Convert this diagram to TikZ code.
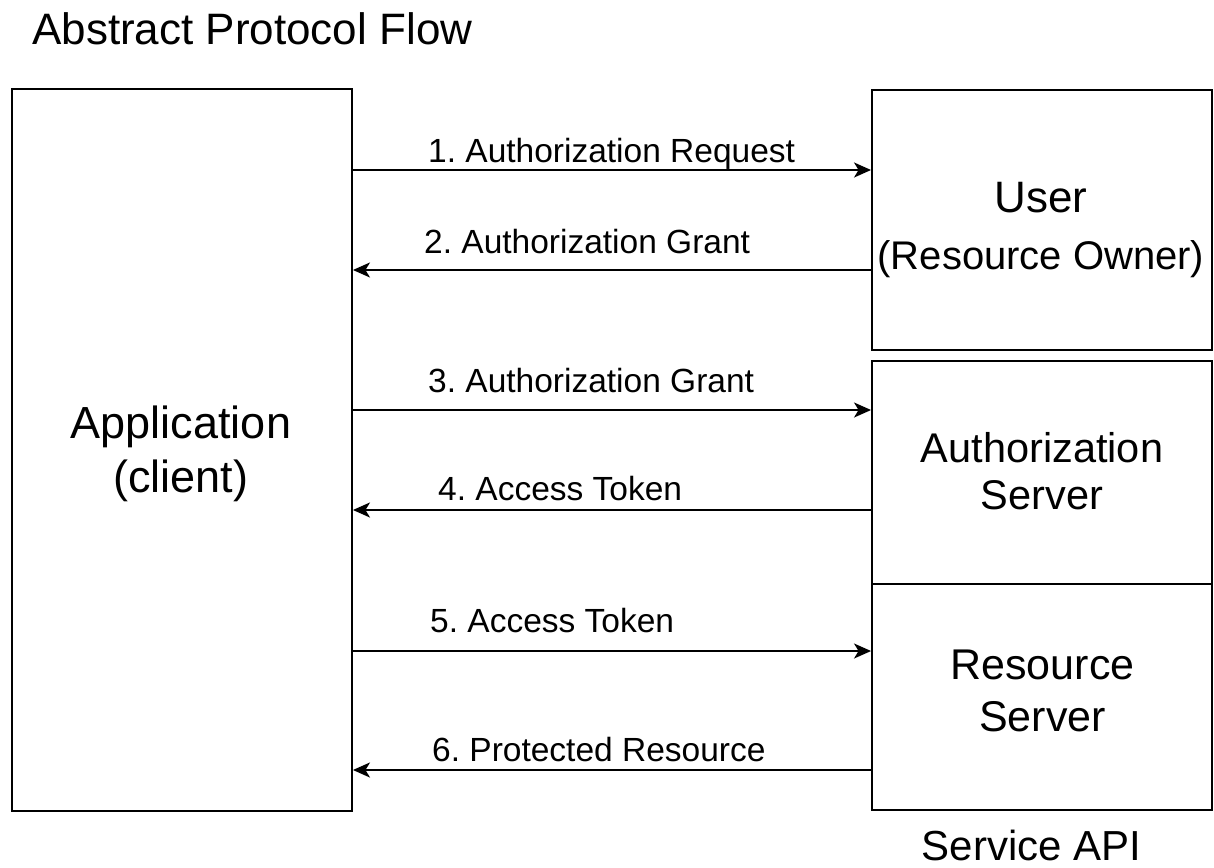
\documentclass[tikz,border=0pt]{standalone}
\usepackage{fontspec}
\setmainfont{Liberation Sans}
\usetikzlibrary{arrows.meta}
\newcommand\pxfont[1]{\fontsize{#1}{#1}\selectfont}
\frenchspacing
\begin{document}
\begin{tikzpicture}[x=1pt,y=-1pt,
  box/.style={draw=black, line width=1.9pt, minimum width=340pt, inner sep=0pt},
  flow/.style={line width=1.9pt, -{Stealth[length=17pt,width=15pt,inset=4.5pt]}},
  txt/.style={inner sep=0pt, anchor=base, text=black},
  lbl/.style={inner sep=0pt, anchor=base west, text=black, font=\pxfont{33.5}}]
\useasboundingbox (0,0) rectangle (1214,867);

% title
\node[inner sep=0pt, anchor=base west, font=\pxfont{44}] (title) at (32,45) {Abstract Protocol Flow};

% boxes
\node[box, minimum height=722pt] (app)  at (182,450)    {};
\node[box, minimum height=260pt] (user) at (1042,220)   {};
\node[box, minimum height=223pt] (auth) at (1042,472.5) {};
\node[box, minimum height=226pt] (res)  at (1042,697)   {};

% box texts
\node[txt, font=\pxfont{45}] (appA) at (181,438) {Application};
\node[txt, font=\pxfont{45}] (appB) at (181,492) {(client)};
\node[txt, font=\pxfont{44}] (userA) at (1041,212) {User};
\node[txt, font=\pxfont{40}] (userB) at (1041,269) {(Resource Owner)};
\node[txt, font=\pxfont{41.5}] (authA) at (1042,462) {Authorization};
\node[txt, font=\pxfont{41.5}] (authB) at (1042,509) {Server};
\node[txt, font=\pxfont{43}] (resA) at (1042.5,679) {Resource};
\node[txt, font=\pxfont{43}] (resB) at (1042.5,731) {Server};
\node[txt, font=\pxfont{42}] (api) at (1031.5,860) {Service API};

% message rows
\coordinate (r1) at (0,170);
\coordinate (r2) at (0,270);
\coordinate (r3) at (0,410);
\coordinate (r4) at (0,510);
\coordinate (r5) at (0,651);
\coordinate (r6) at (0,770);

\draw[flow] (app.east |- r1) -- (user.west |- r1);
\draw[flow] (user.west |- r2) -- (app.east |- r2);
\draw[flow] (app.east |- r3) -- (auth.west |- r3);
\draw[flow] (auth.west |- r4) -- (app.east |- r4);
\draw[flow] (app.east |- r5) -- (res.west |- r5);
\draw[flow] (res.west |- r6) -- (app.east |- r6);

% message labels
\node[lbl] (l1) at (428,162) {1. Authorization Request};
\node[lbl] (l2) at (424,253) {2. Authorization Grant};
\node[lbl] (l3) at (428,392) {3. Authorization Grant};
\node[lbl] (l4) at (438,500) {4. Access Token};
\node[lbl] (l5) at (430,632) {5. Access Token};
\node[lbl] (l6) at (432,761) {6. Protected Resource};
\end{tikzpicture}
\end{document}
